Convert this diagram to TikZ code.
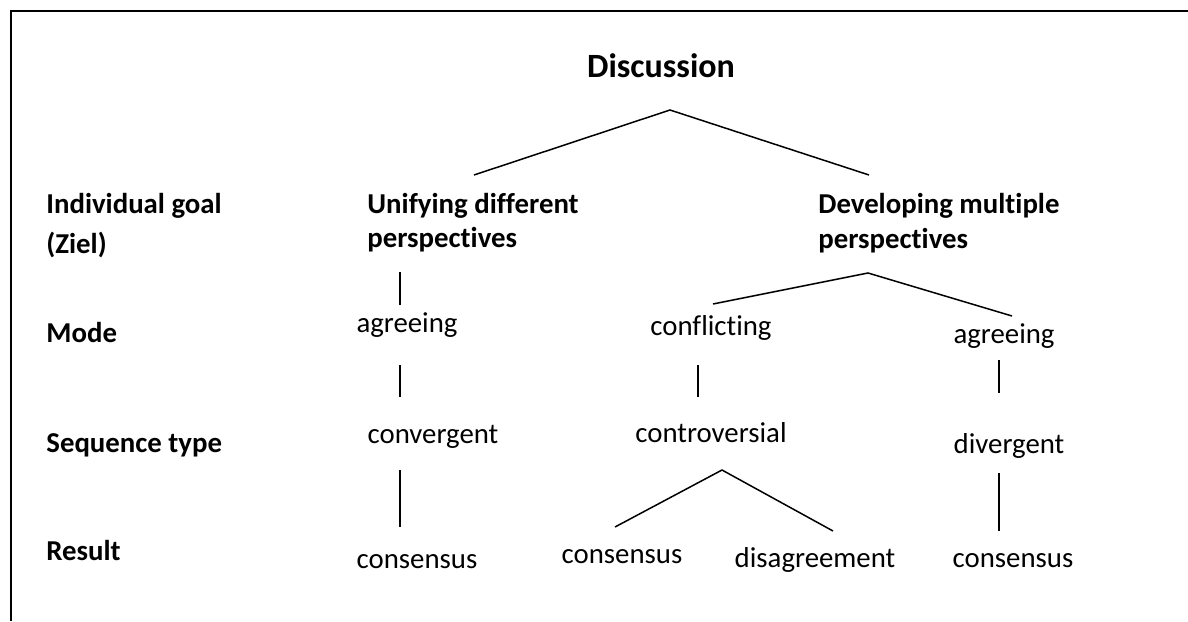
\documentclass[tikz,border=0pt]{standalone}
\usepackage{fontspec}
\setmainfont{Carlito}[Ligatures=CommonOff]
\usepackage{tikz}
\usetikzlibrary{positioning}

\begin{document}
\begin{tikzpicture}[x=0.5pt, y=-0.5pt,
    rowlbl/.style={font=\fontsize{14.4}{20}\bfseries, anchor=base west, align=left, inner sep=0pt},
    goalhd/.style={font=\fontsize{14.4}{17.25}\bfseries, anchor=base west, align=left, inner sep=0pt},
    leaf/.style={font=\fontsize{14.4}{17.25}\selectfont, anchor=base, inner sep=0pt},
    twig/.style={line width=0.75pt}]
  \useasboundingbox (0,0) rectangle (1188,621);

  % Frame (open at right and bottom)
  \draw[line width=1pt] (1188,10.7) -- (10.7,10.7) -- (10.7,621);

  % Row labels (base = last line)
  \node[rowlbl] (goal) at (46,253) {Individual goal\\(Ziel)};
  \node[rowlbl] (mode) at (46,342) {Mode};
  \node[rowlbl] (seqtype) at (46,452) {Sequence type};
  \node[rowlbl] (result) at (46,560) {Result};

  % Top of the tree
  \node[font=\fontsize{17}{20}\bfseries, anchor=base, inner sep=0pt] (disc) at (661,77) {Discussion};
  \coordinate (discfork) at (670,110);
  \coordinate (unifytop) at (474,175);
  \coordinate (develtop) at (869,175);
  \draw[twig] (unifytop) -- (discfork) -- (develtop);

  \node[goalhd] (unify) at (367,247.5) {Unifying different\\perspectives};
  \node[goalhd] (devel) at (818,248) {Developing multiple\\perspectives};

  % Left branch -- unifying
  \node[leaf] (agreeA) at (407,332) {agreeing};
  \node[leaf] (conv) at (433,443) {convergent};
  \node[leaf] (consA) at (417,568) {consensus};
  \coordinate (a1) at (400,272); \coordinate (a2) at (400,305);
  \coordinate (b1) at (400,365); \coordinate (b2) at (400,397);
  \coordinate (c1) at (400,470); \coordinate (c2) at (400,527);
  \draw[twig] (a1) -- (a2);
  \draw[twig] (b1) -- (b2);
  \draw[twig] (c1) -- (c2);

  % Right branch -- developing
  \coordinate (develfork) at (868,273);
  \coordinate (conftop) at (713,304);
  \coordinate (agreeBtop) at (1012,316);
  \draw[twig] (conftop) -- (develfork) -- (agreeBtop);

  \node[leaf] (conf) at (711,335) {conflicting};
  \node[leaf] (contro) at (711,442) {controversial};
  \coordinate (d1) at (698,365); \coordinate (d2) at (698,397);
  \draw[twig] (d1) -- (d2);

  \coordinate (controfork) at (722,470);
  \coordinate (consBtop) at (615,527);
  \coordinate (disagtop) at (833,531);
  \draw[twig] (consBtop) -- (controfork) -- (disagtop);
  \node[leaf] (consB) at (622,563) {consensus};
  \node[leaf] (disag) at (815,567) {disagreement};

  \node[leaf] (agreeB) at (1004,343) {agreeing};
  \node[leaf] (div) at (1009,453) {divergent};
  \node[leaf] (consC) at (1013,567) {consensus};
  \coordinate (e1) at (999,360); \coordinate (e2) at (999,393);
  \coordinate (f1) at (999,473); \coordinate (f2) at (999,531);
  \draw[twig] (e1) -- (e2);
  \draw[twig] (f1) -- (f2);
\end{tikzpicture}
\end{document}
